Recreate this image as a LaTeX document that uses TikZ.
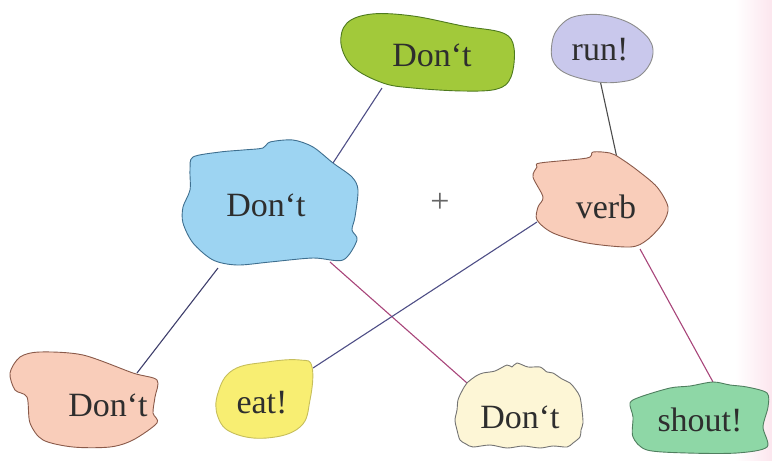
\documentclass[tikz,border=0pt]{standalone}
\usepackage{fontspec}
\setmainfont{Liberation Serif}
\usetikzlibrary{calc}
\pgfdeclarelayer{bgshade}
\pgfdeclarelayer{lines}
\pgfdeclarelayer{blobs}
\pgfsetlayers{bgshade,lines,blobs,main}
\definecolor{cgreen}{HTML}{A2C93A}
\definecolor{cgreenb}{HTML}{4E7A1E}
\definecolor{crun}{HTML}{C9C8EC}
\definecolor{cblue}{HTML}{9DD4F2}
\definecolor{cblueb}{HTML}{3F6F8F}
\definecolor{cpeach}{HTML}{F9CDBA}
\definecolor{cpeachb}{HTML}{8A5A4A}
\definecolor{cyel}{HTML}{F8EE72}
\definecolor{ccream}{HTML}{FDF6D6}
\definecolor{cmint}{HTML}{8ED7A6}
\definecolor{cmintb}{HTML}{4F7F5F}
\definecolor{lpurple}{HTML}{4E4E86}
\definecolor{lmag}{HTML}{A8457A}
\definecolor{ltxt}{HTML}{2E2E2E}
\definecolor{cpinkedge}{HTML}{FCE6EE}
\tikzset{
  lbl/.style={text=ltxt,inner sep=0pt,font=\fontsize{34}{38}\selectfont},
  blob/.style={line width=0.9pt,line join=round},
  conn/.style={line width=1.1pt},
}
\begin{document}
\begin{tikzpicture}[x=1pt,y=-1pt]
\useasboundingbox (0,0) rectangle (772,461);
\begin{pgfonlayer}{bgshade}
\shade[left color=white,right color=cpinkedge] (735,0) rectangle (772,461);
\end{pgfonlayer}
% labels
\node[lbl] (gd) at (432,55) {Don‘t};
\node[lbl] (run) at (600,50) {run!};
\node[lbl] (bd) at (266,205) {Don‘t};
\node[lbl,text=black!60] (plus) at (440,203) {\fontsize{34}{38}\selectfont +};
\node[lbl] (verb) at (606,207) {verb};
\node[lbl] (ld) at (108,405) {Don‘t};
\node[lbl] (eat) at (262,403) {eat!};
\node[lbl] (md) at (520,417) {Don‘t};
\node[lbl] (sh) at (700,420) {shout!};
% connector ends
\coordinate (gd-s) at ($(gd)+(-50,33)$);
\coordinate (bd-n) at ($(bd)+(67,-42)$);
\coordinate (bd-sw) at ($(bd)+(-48,63)$);
\coordinate (bd-se) at ($(bd)+(64,57)$);
\coordinate (ld-ne) at ($(ld)+(29,-32)$);
\coordinate (md-nw) at ($(md)+(-53,-34)$);
\coordinate (run-s) at ($(run)+(0,30)$);
\coordinate (verb-n) at ($(verb)+(11,-49)$);
\coordinate (verb-w) at ($(verb)+(-69,15)$);
\coordinate (verb-s) at ($(verb)+(34,42)$);
\coordinate (eat-e) at ($(eat)+(51,-35)$);
\coordinate (sh-n) at ($(sh)+(13,-38)$);
\begin{pgfonlayer}{lines}
\draw[conn,lpurple] (gd-s) -- (bd-n);
\draw[conn,lpurple!80!black] (bd-sw) -- (ld-ne);
\draw[conn,lmag] (bd-se) -- (md-nw);
\draw[conn,lpurple] (verb-w) -- (eat-e);
\draw[conn,black!70] (run-s) -- (verb-n);
\draw[conn,lmag] (verb-s) -- (sh-n);
\end{pgfonlayer}
\begin{pgfonlayer}{blobs}
% green Don't
\draw[blob,fill=cgreen,draw=cgreenb] plot[smooth cycle,tension=0.6] coordinates {
 (347,23) (372,14) (413,16) (463,26) (503,33) (514,48) (511,77) (497,89)
 (463,91) (413,88) (383,83) (353,67) (341,44)};
% run!
\draw[blob,fill=crun,draw=black!45] plot[smooth cycle,tension=0.7] coordinates {
 (583,15) (613,17) (640,30) (653,50) (643,73) (620,82) (587,80) (557,67) (552,43) (563,23)};
% blue Don't
\draw[blob,fill=cblue,draw=cblueb] plot[smooth cycle,tension=0.5] coordinates {
 (193,157) (220,152) (243,150) (263,148) (270,142) (293,140) (313,147) (333,163)
 (352,177) (358,190) (355,217) (352,230) (357,240) (343,260) (313,258) (270,262)
 (237,265) (213,260) (193,243) (183,223) (183,207) (190,190) (190,170)};
% verb
\draw[blob,fill=cpeach,draw=cpeachb] plot[smooth cycle,tension=0.5] coordinates {
 (540,163) (587,158) (593,152) (610,153) (620,158) (637,170) (657,187) (668,207)
 (663,223) (647,240) (630,247) (587,243) (553,233) (537,220) (538,207) (543,197)
 (533,177) (537,167)};
% bottom-left Don't
\draw[blob,fill=cpeach,draw=cpeachb] plot[smooth cycle,tension=0.5] coordinates {
 (20,357) (40,352) (83,355) (133,373) (157,380) (155,397) (153,413) (157,423)
 (133,440) (110,447) (73,447) (43,440) (30,423) (27,397) (15,390) (10,373)};
% eat!
\draw[blob,fill=cyel,draw=cyel!80!black] plot[smooth cycle,tension=0.7] coordinates {
 (233,370) (267,362) (300,360) (312,367) (310,400) (300,427) (267,438) (233,433)
 (218,417) (218,393)};
% cream Don't
\draw[blob,fill=ccream,draw=black!55] plot[smooth cycle,tension=0.5] coordinates {
 (467,383) (476,376) (483,373) (495,371) (507,365) (512,367) (517,363) (528,367)
 (540,367) (547,372) (553,373) (562,379) (570,383) (576,390) (580,397) (582,410)
 (583,423) (581,430) (580,437) (573,443) (567,447) (553,446) (540,448) (523,446)
 (507,448) (490,445) (473,447) (466,444) (460,440) (457,430) (455,420) (457,410)
 (458,400) (462,391)};
% shout!
\draw[blob,fill=cmint,draw=cmintb] plot[smooth cycle,tension=0.5] coordinates {
 (640,397) (670,388) (690,386) (713,382) (730,385) (747,387) (767,393) (768,407)
 (763,427) (767,447) (737,453) (687,453) (647,450) (633,437) (633,417) (630,403)};
\end{pgfonlayer}
\end{tikzpicture}
\end{document}
